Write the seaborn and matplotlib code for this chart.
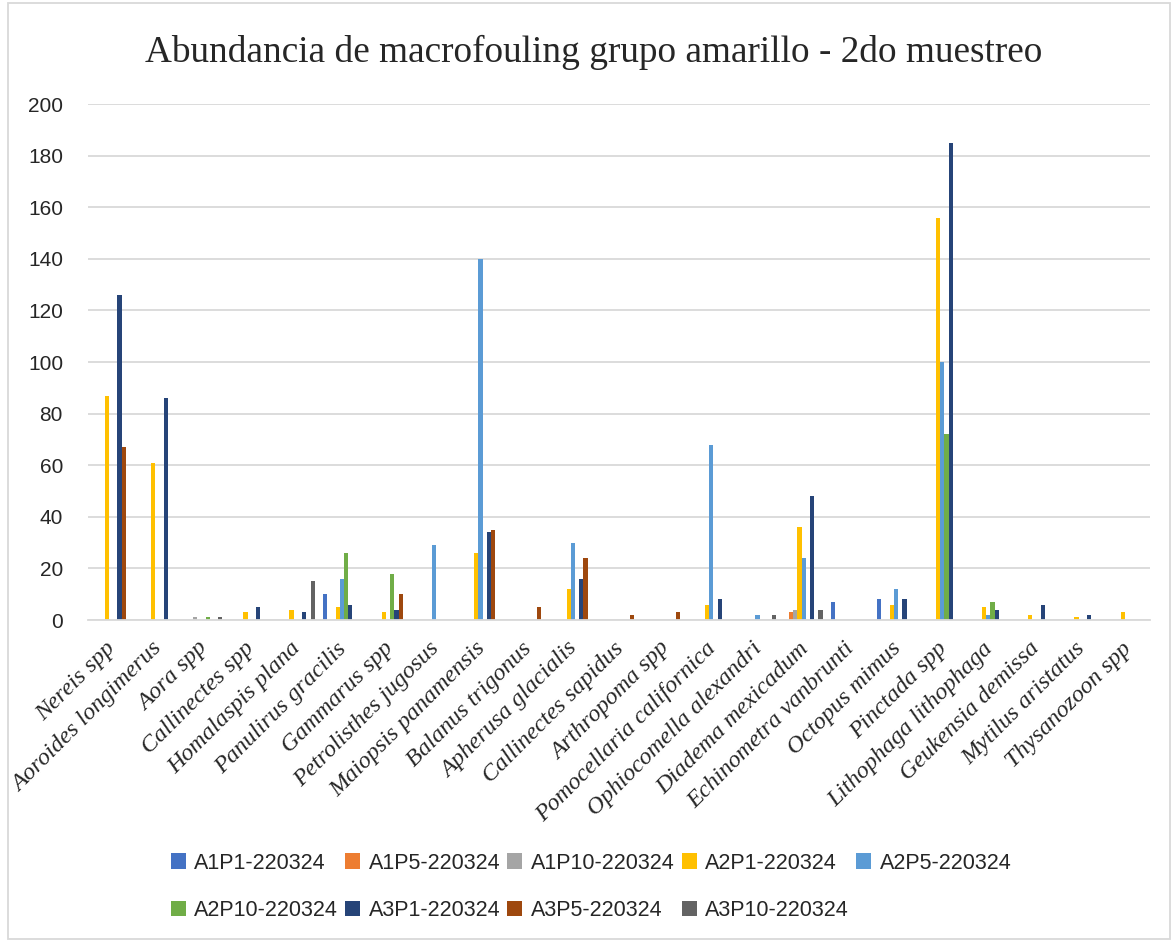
import numpy as np
import pandas as pd
import matplotlib
matplotlib.use("Agg")
import matplotlib.pyplot as plt
import matplotlib.transforms as mtransforms
import seaborn as sns

# Species (x categories)
species = [
    "Nereis spp", "Aoroides longimerus", "Aora spp", "Callinectes spp",
    "Homalaspis plana", "Panulirus gracilis", "Gammarus spp",
    "Petrolisthes jugosus", "Maiopsis panamensis", "Balanus trigonus",
    "Apherusa glacialis", "Callinectes sapidus", "Arthropoma spp",
    "Pomocellaria californica", "Ophiocomella alexandri", "Diadema mexicadum",
    "Echinometra vanbrunti", "Octopus mimus", "Pinctada spp",
    "Lithophaga lithophaga", "Geukensia demissa", "Mytilus aristatus",
    "Thysanozoon spp",
]

# Sampling series (hue)
series = [
    "A1P1-220324", "A1P5-220324", "A1P10-220324", "A2P1-220324", "A2P5-220324",
    "A2P10-220324", "A3P1-220324", "A3P5-220324", "A3P10-220324",
]

# Abundance per series, one value per species (same order as `species`)
a1p1 = [0, 0, 0, 0, 0, 10, 0, 0, 0, 0, 0, 0, 0, 0, 0, 0, 7, 8, 0, 0, 0, 0, 0]
a1p5 = [0, 0, 0, 0, 0, 0, 0, 0, 0, 0, 0, 0, 0, 0, 0, 3, 0, 0, 0, 0, 0, 0, 0]
a1p10 = [0, 0, 1, 0, 0, 0, 0, 0, 0, 0, 0, 0, 0, 0, 0, 4, 0, 0, 0, 0, 0, 0, 0]
a2p1 = [87, 61, 0, 3, 4, 5, 3, 0, 26, 0, 12, 0, 0, 6, 0, 36, 0, 6, 156, 5, 2, 1, 3]
a2p5 = [0, 0, 0, 0, 0, 16, 0, 29, 140, 0, 30, 0, 0, 68, 2, 24, 0, 12, 100, 2, 0, 0, 0]
a2p10 = [0, 0, 1, 0, 0, 26, 18, 0, 0, 0, 0, 0, 0, 0, 0, 0, 0, 0, 72, 7, 0, 0, 0]
a3p1 = [126, 86, 0, 5, 3, 6, 4, 0, 34, 0, 16, 0, 0, 8, 0, 48, 0, 8, 185, 4, 6, 2, 0]
a3p5 = [67, 0, 0, 0, 0, 0, 10, 0, 35, 5, 24, 2, 3, 0, 0, 0, 0, 0, 0, 0, 0, 0, 0]
a3p10 = [0, 0, 1, 0, 15, 0, 0, 0, 0, 0, 0, 0, 0, 0, 2, 4, 0, 0, 0, 0, 0, 0, 0]

yticks = [0, 20, 40, 60, 80, 100, 120, 140, 160, 180, 200]

colors = ["#4472C4", "#ED7D31", "#A5A5A5", "#FFC000", "#5B9BD5",
          "#70AD47", "#264478", "#9E480E", "#636363"]

values = [a1p1, a1p5, a1p10, a2p1, a2p5, a2p10, a3p1, a3p5, a3p10]
rows = []
for s, vals in zip(series, values):
    for sp, v in zip(species, vals):
        rows.append({"Especie": sp, "Serie": s, "Abundancia": v})
df = pd.DataFrame(rows)

sns.set_style("white")
plt.rcParams["font.family"] = ["Liberation Sans", "DejaVu Sans"]

fig = plt.figure(figsize=(11.75, 9.41), dpi=100)
ax = fig.add_axes([88 / 1175, 1 - 620 / 941, (1150 - 88) / 1175, (620 - 104) / 941])

sns.barplot(data=df, x="Especie", y="Abundancia", hue="Serie",
            order=species, hue_order=series, palette=colors, saturation=1,
            width=0.82, errorbar=None, ax=ax, legend=True, linewidth=0)

ax.set_ylim(0, 200)
ax.set_yticks(yticks)
ax.set_xlim(-0.5, len(species) - 0.5)
ax.yaxis.grid(True, color="#D9D9D9", linewidth=1.3)
ax.set_axisbelow(True)
for side in ["top", "right", "left"]:
    ax.spines[side].set_visible(False)
ax.spines["bottom"].set_color("#D9D9D9")
ax.spines["bottom"].set_linewidth(1.3)
ax.tick_params(axis="y", length=0, pad=18, labelsize=15)
ax.tick_params(axis="x", length=0, pad=13)
ax.set_xlabel("")
ax.set_ylabel("")
ax.set_xticks(range(len(species)))
ax.set_xticklabels(species, rotation=45, ha="right", va="top",
                   rotation_mode="anchor", family="Liberation Serif",
                   style="italic", fontsize=17.5)
shift = mtransforms.ScaledTranslation(-6 / 100, 0, fig.dpi_scale_trans)
for lbl in ax.get_xticklabels():
    lbl.set_transform(lbl.get_transform() + shift)

# Legend in two rows, filled row by row
handles, labels = ax.get_legend_handles_labels()
ax.get_legend().remove()
order = [0, 5, 1, 6, 2, 7, 3, 8, 4]
fig.legend([handles[i] for i in order], [labels[i] for i in order],
           loc="center", bbox_to_anchor=(0.503, 1 - 887 / 941), ncol=5,
           frameon=False, fontsize=15.5, handlelength=0.7, handleheight=0.7,
           handletextpad=0.4, columnspacing=0.32, labelspacing=1.25)

fig.text(0.505, 1 - 52 / 941, "Abundancia de macrofouling grupo amarillo - 2do muestreo",
         ha="center", va="center", family="Liberation Serif", fontsize=26.8)

# Chart frame
frame = plt.Rectangle((8 / 1175, 2 / 941), 1162 / 1175, 936 / 941,
                      transform=fig.transFigure, fill=False,
                      edgecolor="#D9D9D9", linewidth=1.3)
fig.patches.append(frame)

fig.savefig("out.png", dpi=100)
